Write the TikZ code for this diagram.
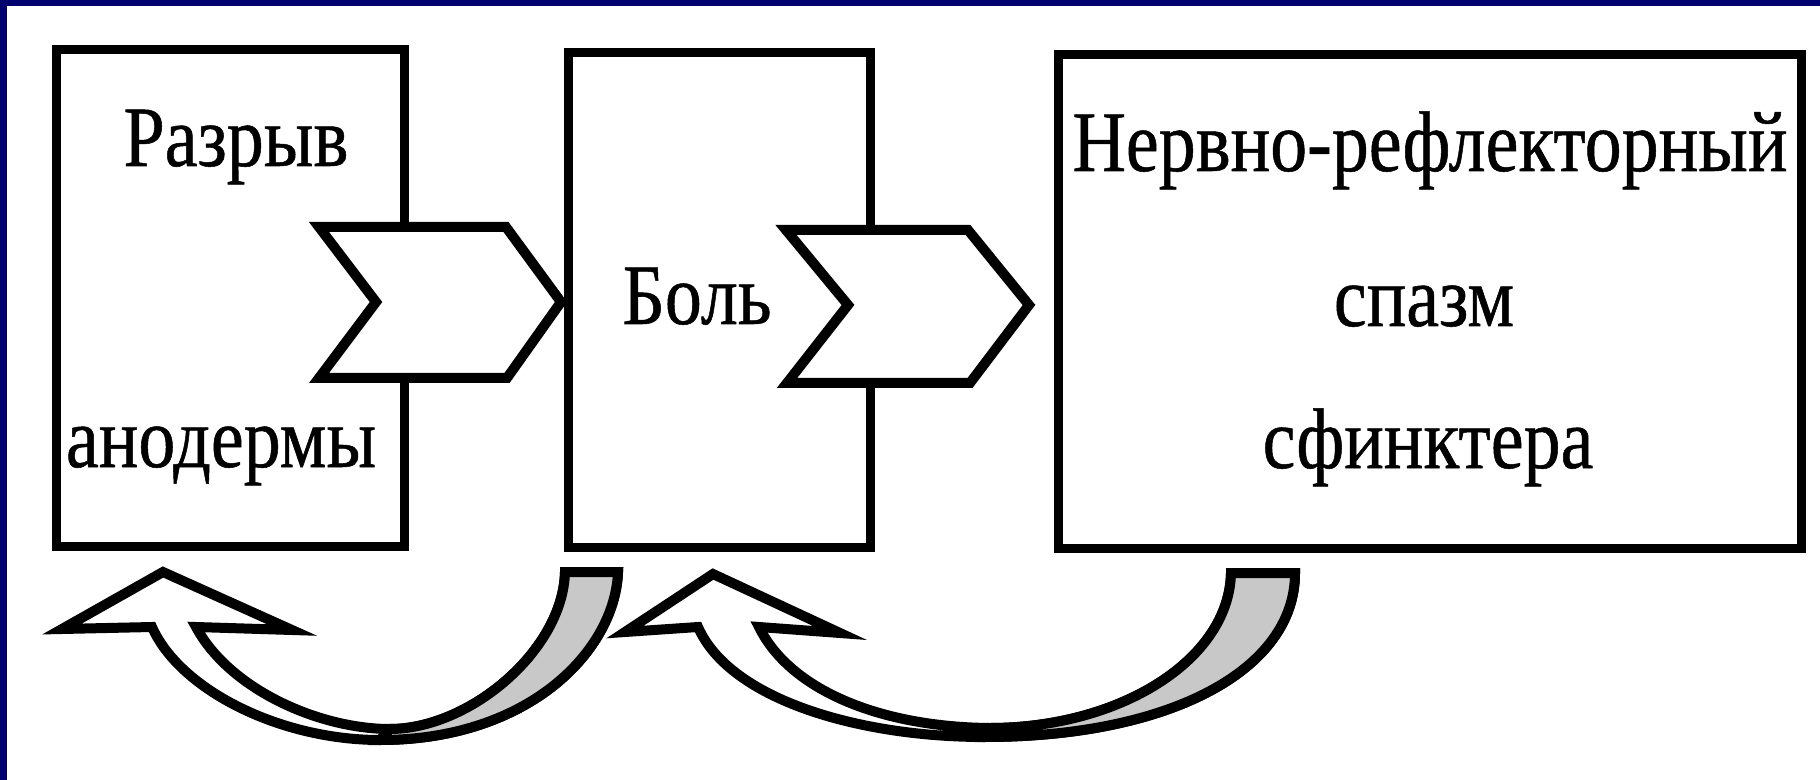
\documentclass[tikz,border=0pt]{standalone}
\usepackage{fontspec}
\setmainfont{Liberation Serif}[FakeStretch=0.86, FakeBold=0.6]
\usetikzlibrary{arrows}
\pgfdeclarelayer{nodelayer}
\pgfdeclarelayer{edgelayer}
\pgfsetlayers{main,nodelayer,edgelayer}
\definecolor{slide blue}{RGB}{0,0,110}
\definecolor{tail grey}{RGB}{200,200,200}
\tikzstyle{box}=[fill=white, draw=black, shape=rectangle, line width=4.5pt, inner sep=0pt]
\tikzstyle{word}=[fill=none, draw=none, inner sep=0pt, anchor=base, font=\fontsize{43}{44}\selectfont]
\tikzstyle{chevron}=[fill=white, draw=black, line width=5pt, line join=miter]
\tikzstyle{bent arrow}=[fill=white, draw=black, line width=5pt, line join=miter]
\tikzstyle{bent tail}=[fill=tail grey, draw=black, line width=5pt, line join=miter]

\begin{document}
\begin{tikzpicture}[x=0.5pt, y=-0.5pt]
	\useasboundingbox (0, 0) rectangle (1820, 780);
	\fill [white] (0, 0) rectangle (1820, 780);
	\fill [slide blue] (0, 0) rectangle (1820, 6);
	\fill [slide blue] (0, 0) rectangle (7, 780);
	\begin{pgfonlayer}{nodelayer}
		\node [style=box, minimum width=174pt, minimum height=248pt] (0) at (230, 298) {};
		\node [style=box, minimum width=151pt, minimum height=247pt] (1) at (719, 300) {};
		\node [style=box, minimum width=371.5pt, minimum height=246.5pt] (2) at (1429.5, 301.5) {};
		\node [style=word] (3) at (236, 166) {Разрыв};
		\node [style=word] (4) at (221, 467) {анодермы};
		\node [style=word] (5) at (697, 324) {Боль};
		\node [style=word] (6) at (1430, 171) {Нервно-рефлекторный};
		\node [style=word] (7) at (1424, 326) {спазм};
		\node [style=word] (8) at (1428, 468) {сфинктера};
	\end{pgfonlayer}
	\begin{pgfonlayer}{edgelayer}
		% chevrons between the boxes
		\draw [style=chevron] (319, 227) -- (506, 227) -- (561, 302) -- (507, 378) -- (319, 378) -- (376, 302) -- cycle;
		\draw [style=chevron] (786, 230) -- (968, 230) -- (1029, 305) -- (970, 383) -- (787, 383) -- (848, 305) -- cycle;
		% bent arrows back
		\draw [style=bent arrow] (565, 572) -- (618, 572) .. controls (615, 650) and (530, 740) .. (380, 740) .. controls (280, 740) and (180, 690) .. (152, 627) -- (62, 629) -- (163, 572) -- (292, 630) -- (196, 627) .. controls (230, 690) and (320, 729) .. (390, 729) .. controls (470, 729) and (563, 650) .. (565, 572) -- cycle;
		\draw [style=bent tail] (565, 572) -- (618, 572) .. controls (615, 650) and (530, 740) .. (380, 740) -- (390, 729) .. controls (470, 729) and (563, 650) .. (565, 572) -- cycle;
		\draw [style=bent arrow] (1231, 573) -- (1295, 573) .. controls (1295, 670) and (1170, 737) .. (984, 737) .. controls (860, 737) and (730, 700) .. (698, 627) -- (625, 632) -- (713, 574) -- (840, 633) -- (759, 627) .. controls (790, 690) and (880, 727) .. (990, 728) .. controls (1120, 728) and (1229, 660) .. (1231, 573) -- cycle;
		\draw [style=bent tail] (1231, 573) -- (1295, 573) .. controls (1295, 670) and (1170, 737) .. (984, 737) -- (990, 728) .. controls (1120, 728) and (1229, 660) .. (1231, 573) -- cycle;
	\end{pgfonlayer}
\end{tikzpicture}
\end{document}
